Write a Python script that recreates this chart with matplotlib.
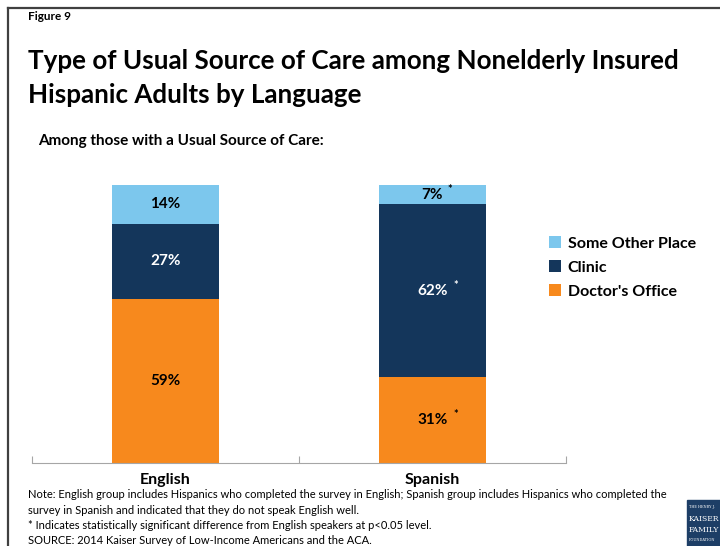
import matplotlib.pyplot as plt
import numpy as np
from matplotlib.patches import Rectangle
from matplotlib.lines import Line2D

plt.rcParams['font.family'] = ['Lato', 'DejaVu Sans']

groups = ['English', 'Spanish']
series = ['Doctor\'s Office', 'Clinic', 'Some Other Place']
doctor = [59, 31]
clinic = [27, 62]
other = [14, 7]
starred = [False, True]  # per group, significant vs English
colors = ['#F7891D', '#14365B', '#7CC7ED']
text_colors = ['black', 'white', 'black']

fig = plt.figure(figsize=(7.2, 5.46), dpi=100)

# frame on top and left
fig.add_artist(Line2D([8 / 720, 8 / 720], [0, 1 - 8 / 546], color='#404040', lw=1.6))
fig.add_artist(Line2D([8 / 720, 1], [1 - 8 / 546, 1 - 8 / 546], color='#404040', lw=1.6))

fig.text(28 / 720, 1 - 17 / 546, 'Figure 9', fontsize=8.5, fontweight='bold', va='center')
fig.text(28 / 720, 1 - 61 / 546, 'Type of Usual Source of Care among Nonelderly Insured',
         fontsize=18.7, fontweight='bold', va='center')
fig.text(28 / 720, 1 - 95 / 546, 'Hispanic Adults by Language',
         fontsize=18.7, fontweight='bold', va='center')
fig.text(38 / 720, 1 - 141 / 546, 'Among those with a Usual Source of Care:',
         fontsize=11, fontweight='bold', va='center')

ax = fig.add_axes([32 / 720, 1 - 463 / 546, 534 / 720, 278 / 546])
x = np.arange(len(groups))
values = [doctor, clinic, other]
bottom = np.zeros(len(groups))
handles = []
for i, vals in enumerate(values):
    b = ax.bar(x, vals, width=0.4, bottom=bottom, color=colors[i], label=series[i])
    handles.append(b)
    for j, v in enumerate(vals):
        yc = bottom[j] + v / 2
        ax.text(x[j], yc, f'{v}%', ha='center', va='center', fontsize=11,
                fontweight='bold', color=text_colors[i])
        if starred[j]:
            dx = 17 if v >= 10 else 12.5
            ax.annotate('*', (x[j], yc), xytext=(dx, 4), textcoords='offset points',
                        ha='center', va='center', fontsize=8, fontweight='bold',
                        color=text_colors[i])
    bottom += np.array(vals)

ax.set_xlim(-0.5, 1.5)
ax.set_ylim(0, 100)
ax.set_yticks([])
ax.set_xticks([-0.5, 0.5, 1.5])
ax.set_xticklabels([])
ax.tick_params(axis='x', length=5, color='#A6A6A6', direction='in')
for s in ['top', 'right', 'left']:
    ax.spines[s].set_visible(False)
ax.spines['bottom'].set_color('#A6A6A6')
for j, g in enumerate(groups):
    ax.text(x[j], -6.2, g, ha='center', va='center', fontsize=11.5, fontweight='bold')

leg = fig.legend(handles[::-1], series[::-1], loc='upper left',
                 bbox_to_anchor=(543 / 720, 1 - 230 / 546), frameon=False,
                 prop={'size': 11.5, 'weight': 'bold'}, handlelength=0.75, handleheight=0.75,
                 handletextpad=0.4, labelspacing=0.6, borderaxespad=0)

notes = [
    'Note: English group includes Hispanics who completed the survey in English; Spanish group includes Hispanics who completed the',
    'survey in Spanish and indicated that they do not speak English well.',
    '* Indicates statistically significant difference from English speakers at p<0.05 level.',
    'SOURCE: 2014 Kaiser Survey of Low-Income Americans and the ACA.',
]
for k, line in enumerate(notes):
    fig.text(28 / 720, 1 - (495 + k * 15.3) / 546, line, fontsize=8, va='center')

# foundation logo block
fig.add_artist(Rectangle((687 / 720, 0), 33 / 720, 46 / 546, transform=fig.transFigure,
                         color='#1D3E66'))
fig.text(689 / 720, 1 - 507 / 546, 'THE HENRY J.', fontsize=2.5, color='white', va='center',
         family='DejaVu Serif')
fig.text(689 / 720, 1 - 519 / 546, 'KAISER', fontsize=5.5, color='white', va='center',
         family='DejaVu Serif')
fig.text(689 / 720, 1 - 530 / 546, 'FAMILY', fontsize=5.5, color='white', va='center',
         family='DejaVu Serif')
fig.text(689 / 720, 1 - 540 / 546, 'FOUNDATION', fontsize=2.5, color='white', va='center',
         family='DejaVu Serif')

fig.savefig('out.png', dpi=100)
